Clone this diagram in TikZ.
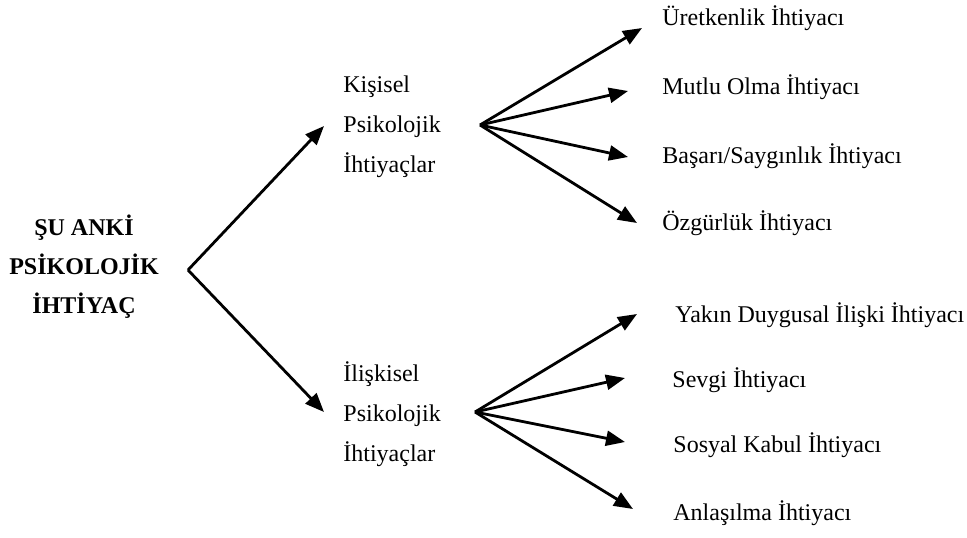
\documentclass[tikz,border=0pt]{standalone}
\usepackage{fontspec}
\setmainfont{Liberation Serif}
\usetikzlibrary{arrows.meta}
\begin{document}
\begin{tikzpicture}[x=0.5pt,y=-0.5pt,
  lbl/.style={inner sep=0pt,font=\fontsize{12pt}{20pt}\selectfont},
  grp/.style={lbl,align=left,anchor=west},
  leaf/.style={lbl,anchor=base west},
  arr/.style={line width=1.4pt,-{Triangle[length=9.5pt,width=7.5pt]}}]
\useasboundingbox (0,0) rectangle (967,537);
% root
\node[lbl,align=center,font=\fontsize{12pt}{19.5pt}\selectfont\bfseries] (root) at (84,267) {ŞU ANKİ\\PSİKOLOJİK\\İHTİYAÇ};
\coordinate (r) at (188,270);
% groups
\node[grp] (k) at (343,127) {Kişisel\\Psikolojik\\İhtiyaçlar};
\node[grp] (i) at (343,414) {İlişkisel\\Psikolojik\\İhtiyaçlar};
\coordinate (kt) at (324,126);
\coordinate (it) at (324,412);
\coordinate (ka) at (480,125);
\coordinate (ia) at (475,412);
% leaves
\node[leaf] (l1) at (662,25) {Üretkenlik İhtiyacı};
\node[leaf] (l2) at (662,94) {Mutlu Olma İhtiyacı};
\node[leaf] (l3) at (662,163) {Başarı/Saygınlık İhtiyacı};
\node[leaf] (l4) at (662,230) {Özgürlük İhtiyacı};
\node[leaf] (m1) at (675,322) {Yakın Duygusal İlişki İhtiyacı};
\node[leaf] (m2) at (672,387) {Sevgi İhtiyacı};
\node[leaf] (m3) at (673,452) {Sosyal Kabul İhtiyacı};
\node[leaf] (m4) at (673,520) {Anlaşılma İhtiyacı};
\coordinate (t1) at (642,28);
\coordinate (t2) at (628,91);
\coordinate (t3) at (628,157);
\coordinate (t4) at (637,223);
\coordinate (u1) at (637,314);
\coordinate (u2) at (625,378);
\coordinate (u3) at (625,442);
\coordinate (u4) at (633,509);
% connectors
\draw[arr] (r) -- (kt);
\draw[arr] (r) -- (it);
\foreach \t in {t1,t2,t3,t4} \draw[arr] (ka) -- (\t);
\foreach \t in {u1,u2,u3,u4} \draw[arr] (ia) -- (\t);
\end{tikzpicture}
\end{document}
